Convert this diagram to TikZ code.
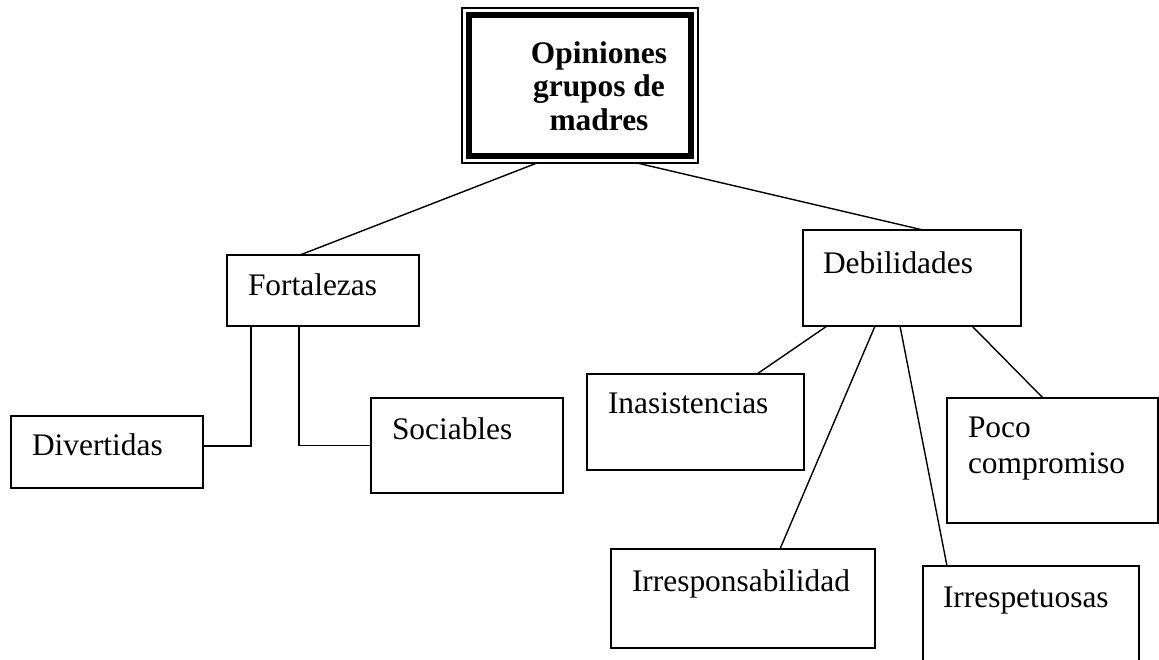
\documentclass[tikz,border=0pt]{standalone}
\usepackage{fontspec}
\setmainfont{Liberation Serif}
\usepackage{tikz}
\newcommand{\LW}{1.4pt}
\newcommand{\FS}{\fontsize{31.4}{36}\selectfont}

\begin{document}
\begin{tikzpicture}[x=1pt,y=-1pt,
    box/.style={draw, rectangle, line width=\LW, anchor=north west, outer sep=0pt,
                inner ysep=0pt, inner xsep=21pt, align=left, font=\FS},
    link/.style={line width=\LW}]
            \useasboundingbox (0,0) rectangle (1159,659); % page size

            % title box with its double frame
            \path (462,8) node (head) [draw, line width=\LW, anchor=north west, outer sep=0pt,
                minimum width=236pt, minimum height=155pt, inner sep=0pt] {};
            \draw [line width=6.5pt] ([shift={(7,7)}]head.north west) rectangle ([shift={(-7,-7)}]head.south east);
            \path (599,130) node (title) [anchor=base, align=center, font=\bfseries\fontsize{31.4}{33.5}\selectfont]
                {Opiniones\\grupos de\\madres};

            % the two branches
            \path (227,255) node (fort) [box, text width=150pt, text height=40pt, text depth=31pt] {Fortalezas};
            \path (803,230) node (deb) [box, inner xsep=20pt, text width=178pt, text height=43pt, text depth=53pt] {Debilidades};

            % leaves of Fortalezas
            \path (11,416) node (div) [box, text width=150pt, text height=39pt, text depth=33pt] {Divertidas};
            \path (371,398) node (soc) [box, text width=150pt, text height=41pt, text depth=54pt] {Sociables};

            % leaves of Debilidades
            \path (587,374) node (ina) [box, text width=175pt, text height=39pt, text depth=57pt] {Inasistencias};
            \path (947,398) node (poco) [box, text width=169pt, text height=39pt, text depth=86pt] {Poco\\compromiso};
            \path (611,549) node (irrb) [box, text width=222pt, text height=42pt, text depth=57pt] {Irresponsabilidad};
            \path (923,566) node (irrp) [box, inner xsep=20pt, text width=176pt, text height=41pt, text depth=100pt] {Irrespetuosas};

            % connectors
            \draw [link] ([xshift=-43pt]head.south) -- ([xshift=-23pt]fort.north);
            \draw [link] ([xshift=57pt]head.south) -- ([xshift=11pt]deb.north);
            \draw [link] ([xshift=-72pt]fort.south) |- ([yshift=6pt]div.east);
            \draw [link] ([xshift=-24pt]fort.south) |- (soc.west);
            \draw [link] ([xshift=-85pt]deb.south) -- ([xshift=61.5pt]ina.north);
            \draw [link] ([xshift=-37pt]deb.south) -- ([xshift=37pt]irrb.north);
            \draw [link] ([xshift=-12pt]deb.south) -- ([xshift=-84pt]irrp.north);
            \draw [link] ([xshift=60pt]deb.south) -- ([xshift=-9.5pt]poco.north);

\end{tikzpicture}
\end{document}
